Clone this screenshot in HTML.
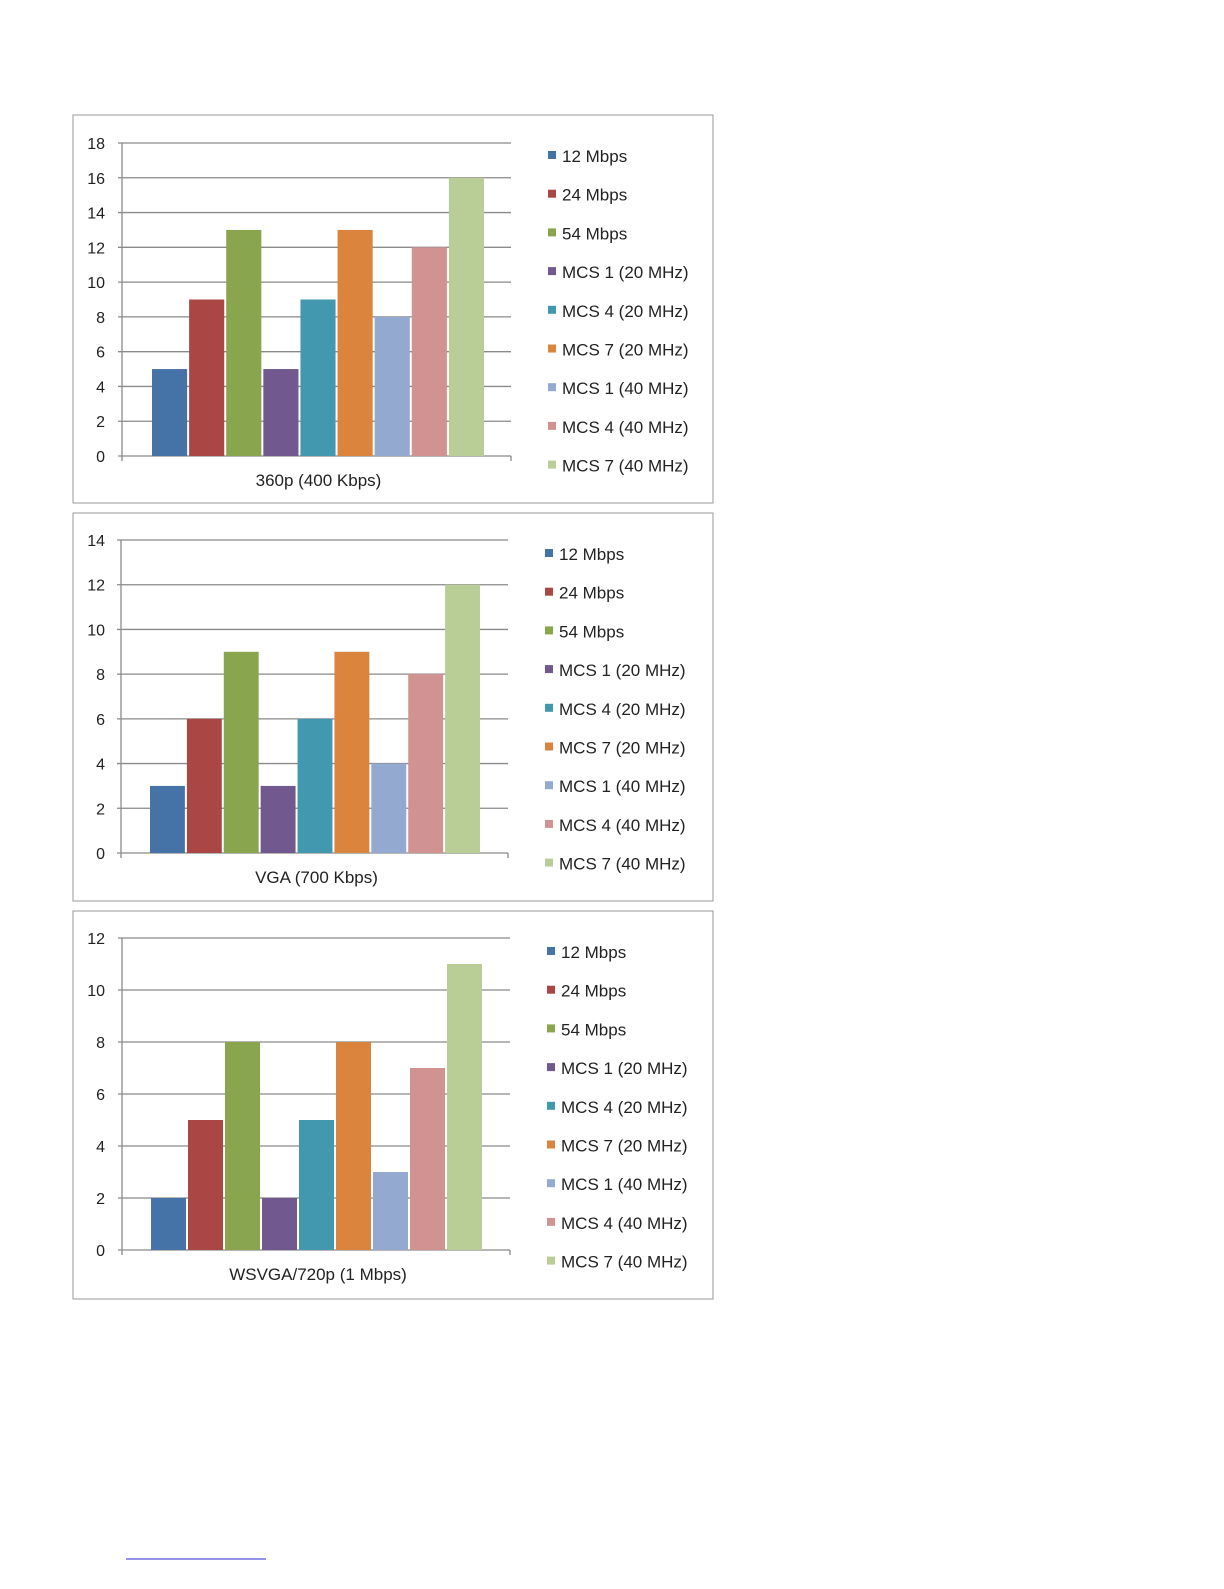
<!DOCTYPE html>
<html><head><meta charset="utf-8"><style>
body{margin:0;background:#fff;font-family:"Liberation Sans",sans-serif;}
svg text{font-family:"Liberation Sans",sans-serif;fill:#222;}
</style></head><body>
<svg id="s" width="1224" height="1584" xmlns="http://www.w3.org/2000/svg">
<line x1="126" y1="1559" x2="266" y2="1559" stroke="#2a2ad0" stroke-width="1"/>
</svg>
<script>
const seriesNames=["12 Mbps","24 Mbps","54 Mbps","MCS 1 (20 MHz)","MCS 4 (20 MHz)","MCS 7 (20 MHz)","MCS 1 (40 MHz)","MCS 4 (40 MHz)","MCS 7 (40 MHz)"];
const colors=["#4572a7","#aa4643","#89a54e","#71588f","#4198af","#db843d","#93a9cf","#d19392","#b9cd96"];
const chartTitles=["360p (400 Kbps)","VGA (700 Kbps)","WSVGA/720p (1 Mbps)"];
const values360=[5,9,13,5,9,13,8,12,16];
const valuesVGA=[3,6,9,3,6,9,4,8,12];
const values720=[2,5,8,2,5,8,3,7,11];
const yMaxes=[18,14,12];
const tickStep=2;
const NS="http://www.w3.org/2000/svg";
const svg=document.getElementById('s');
function mk(tag,attrs,parent){const e=document.createElementNS(NS,tag);for(const k in attrs)e.setAttribute(k,attrs[k]);(parent||svg).appendChild(e);return e;}
const layouts=[
 {box:115,top:143,zero:456,ax:122,right:511,b0:152,b1:486,lx:548,ly:156},
 {box:513,top:540,zero:853,ax:121,right:508,b0:150,b1:482,lx:545,ly:554},
 {box:911,top:938,zero:1250,ax:122,right:510,b0:151,b1:484,lx:547,ly:952}
];
const allVals=[values360,valuesVGA,values720];
layouts.forEach((L,ci)=>{
 const g=mk('g',{});
 
 
 const box=mk('rect',{x:73,y:L.box,width:640,height:388,fill:'#fff',stroke:'#999','stroke-width':1},g);
 
 
 const yMax=yMaxes[ci];
 const y=v=>L.zero-(v/yMax)*(L.zero-L.top);
 for(let v=0;v<=yMax;v+=tickStep){
  const gl=mk('line',{x1:L.ax-4,x2:L.right,y1:y(v),y2:y(v),stroke:'#8a8a8a','stroke-width':1.3},g);
  
  
  const t=mk('text',{x:105,y:y(v)+6,'font-size':16,'text-anchor':'end'},g);
  t.textContent=v;
  
  
 }
 const ax=mk('line',{x1:L.ax,x2:L.ax,y1:L.top,y2:L.zero+5,stroke:'#8a8a8a','stroke-width':1.3},g);
 
 
 const rt=mk('line',{x1:L.right,x2:L.right,y1:L.zero,y2:L.zero+5,stroke:'#8a8a8a','stroke-width':1.3},g);
 
 
 const vals=allVals[ci];
 const step=(L.b1-L.b0)/vals.length;
 vals.forEach((v,i)=>{
  const r=mk('rect',{x:L.b0+i*step,y:y(v),width:step-2,height:L.zero-y(v),fill:colors[i]},g);
  
  
 });
 const xt=mk('text',{x:(L.ax+L.right)/2+2,y:L.zero+30,'font-size':17,'text-anchor':'middle'},g);
 xt.textContent=chartTitles[ci];
 
 
 seriesNames.forEach((n,i)=>{
  const yy=L.ly+i*38.7;
  const sq=mk('rect',{x:L.lx,y:yy-5,width:8,height:8,fill:colors[i]},g);
  
  
  const t=mk('text',{x:L.lx+14,y:yy+6,'font-size':17},g);
  t.textContent=n;
  
  
 });
});
</script>
</body></html>
